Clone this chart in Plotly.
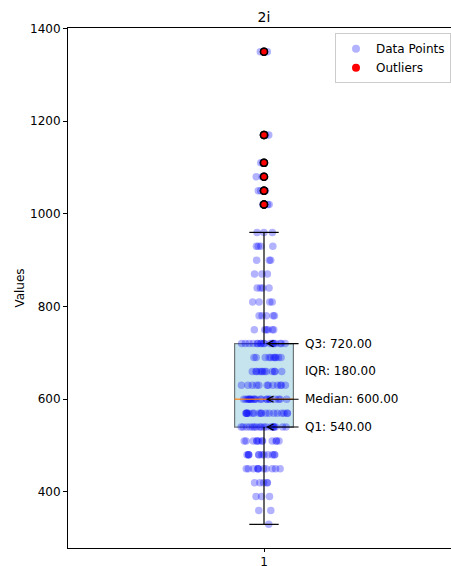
import numpy as np
import plotly.graph_objects as go

# ---- data ----
levels = [330, 360, 390, 420, 450, 480, 510, 540, 570, 600, 630, 660, 690, 720,
          750, 780, 810, 840, 870, 900, 930, 960, 1020, 1050, 1080, 1110, 1170, 1350]
counts = [1, 2, 3, 5, 11, 12, 12, 18, 18, 20, 12, 12, 10, 18,
          6, 5, 4, 4, 3, 3, 4, 3, 3, 3, 2, 2, 3, 2]
title_text = "2i"
y_ticks = [400, 600, 800, 1000, 1200, 1400]
x_ticks = [1]

values = np.repeat(levels, counts).astype(float)

q1, med, q3 = np.percentile(values, [25, 50, 75])
iqr = q3 - q1
lo_fence, hi_fence = q1 - 1.5 * iqr, q3 + 1.5 * iqr
whisk_lo = values[values >= lo_fence].min()
whisk_hi = values[values <= hi_fence].max()
outliers = values[(values < lo_fence) | (values > hi_fence)]

FONT = "DejaVu Sans"
FS = 12
box_w = 0.15
cap_w = box_w / 2

fig = go.Figure()

# jittered data points (library jitter)
fig.add_trace(go.Box(
    y=values, x0=1, width=box_w, boxpoints="all", jitter=0.8, pointpos=0,
    fillcolor="rgba(0,0,0,0)", line=dict(width=0, color="rgba(0,0,0,0)"),
    marker=dict(color="rgba(0,0,255,0.3)", size=7.5, line=dict(width=0)),
    showlegend=False, hoverinfo="y",
))

# outliers
fig.add_trace(go.Scatter(
    x=[1] * len(outliers), y=outliers, mode="markers",
    marker=dict(color="red", size=7, line=dict(color="black", width=1.5)),
    showlegend=False,
))

# legend entries
fig.add_trace(go.Scatter(x=[None], y=[None], mode="markers", name="Data Points",
                         marker=dict(color="rgba(0,0,255,0.3)", size=8)))
fig.add_trace(go.Scatter(x=[None], y=[None], mode="markers", name="Outliers",
                         marker=dict(color="red", size=8)))

# box
fig.add_shape(type="rect", xref="x", yref="y", x0=1 - box_w / 2, x1=1 + box_w / 2,
              y0=q1, y1=q3, fillcolor="rgba(173,216,230,0.7)",
              line=dict(color="rgb(110,118,122)", width=1.2), layer="below")
# whiskers + caps
for a, b in [(q3, whisk_hi), (q1, whisk_lo)]:
    fig.add_shape(type="line", xref="x", yref="y", x0=1, x1=1, y0=a, y1=b,
                  line=dict(color="black", width=1.2), layer="above")
for v in [whisk_hi, whisk_lo]:
    fig.add_shape(type="line", xref="x", yref="y", x0=1 - cap_w / 2, x1=1 + cap_w / 2,
                  y0=v, y1=v, line=dict(color="black", width=1.2), layer="above")
# median
fig.add_shape(type="line", xref="x", yref="y", x0=1 - box_w / 2, x1=1 + box_w / 2,
              y0=med, y1=med, line=dict(color="rgba(255,127,14,0.8)", width=1.3),
              layer="above")

# annotations
ann_font = dict(family=FONT, size=FS, color="black")
for label, v, arrow in [("Q3", q3, True), ("IQR", (q3 + med) / 2, False),
                        ("Median", med, True), ("Q1", q1, True)]:
    val = iqr if label == "IQR" else v
    fig.add_annotation(x=1.1, y=v, xref="x", yref="y", text=f"{label}: {val:.2f}",
                       showarrow=False, xanchor="left", yanchor="middle", font=ann_font)
    if arrow:
        fig.add_annotation(x=1.0, y=v, ax=1.092, ay=v, xref="x", yref="y",
                           axref="x", ayref="y", text="", showarrow=True,
                           arrowhead=5, arrowsize=1.1, arrowwidth=1.1,
                           arrowcolor="black", standoff=2)

fig.update_layout(
    width=451, height=566,
    margin=dict(l=68, r=0, t=28, b=18, autoexpand=False),
    paper_bgcolor="white", plot_bgcolor="white",
    font=dict(family=FONT, size=FS, color="black"),
    title=dict(text=title_text, x=(264 - 68) / 383,
               xref="paper", xanchor="center", y=1 - 17 / 566, yanchor="middle",
               font=dict(family=FONT, size=14, color="black")),
    legend=dict(x=1.0, y=0.99, xanchor="right", yanchor="top",
                bgcolor="white", bordercolor="#cccccc", borderwidth=1,
                font=dict(family=FONT, size=FS, color="black")),
    showlegend=True,
)

fig.update_xaxes(type="linear", range=[0.5, 0.5 + 383 / 392], tickvals=x_ticks,
                 ticktext=[str(t) for t in x_ticks], ticks="outside", ticklen=3,
                 tickcolor="black", showline=True, linecolor="black", linewidth=1,
                 mirror=True, showgrid=False, zeroline=False, automargin=False,
                 tickfont=dict(family=FONT, size=FS, color="black"))
fig.update_yaxes(range=[279, 1401], tickvals=y_ticks, ticks="outside", ticklen=4,
                 tickcolor="black", showline=True, linecolor="black", linewidth=1,
                 showgrid=False, zeroline=False, automargin=False,
                 title=dict(text="Values", standoff=2,
                            font=dict(family=FONT, size=FS, color="black")),
                 tickfont=dict(family=FONT, size=FS, color="black"))

fig.write_html("out.html", config={"displayModeBar": False},
               post_script="document.body.style.margin='0';"
                           "document.body.style.overflow='hidden';")
